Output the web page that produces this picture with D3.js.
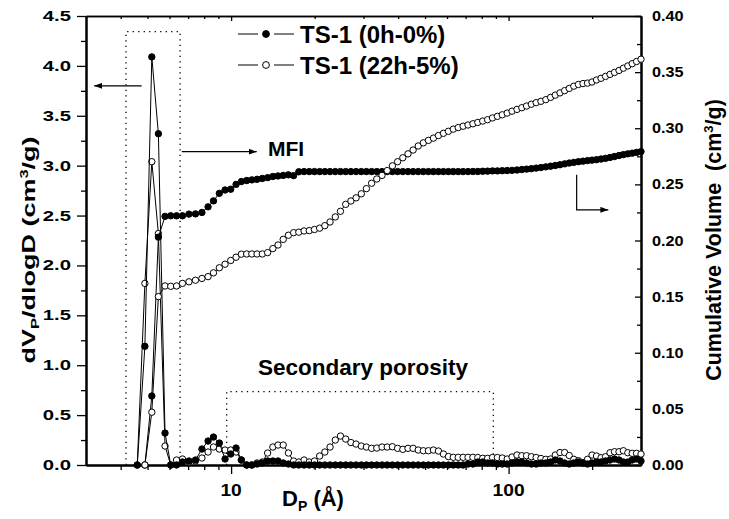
<!DOCTYPE html>
<html>
<head>
<meta charset="utf-8">
<script src="https://cdn.jsdelivr.net/npm/d3@7"></script>
<style>
  body { margin: 0; background: #fff; }
  svg text { font-family: "Liberation Sans", Arial, sans-serif; font-weight: bold; fill: #000; white-space: pre; }
</style>
</head>
<body>
<svg id="chart" width="729" height="519"></svg>
<script>
// pore diameter grid (Å), shared by all four series
const dp = [4.59, 4.89, 5.18, 5.47, 5.78, 6.06, 6.36, 6.68, 7.05, 7.44,
  7.85, 8.26, 8.64, 9.07, 9.51, 9.97, 10.42, 10.89, 11.38, 11.88,
  12.40, 12.96, 13.54, 14.14, 14.76, 15.41, 16.09, 16.80, 17.54, 18.32,
  19.13, 19.97, 20.85, 21.77, 22.73, 23.74, 24.78, 25.88, 27.02, 28.21,
  29.46, 30.73, 32.09, 33.50, 34.98, 36.52, 38.13, 39.81, 41.57, 43.40,
  45.28, 47.24, 49.29, 51.42, 53.60, 55.87, 58.23, 60.70, 63.21, 65.84,
  68.57, 71.41, 74.37, 77.45, 80.67, 84.01, 87.50, 91.13, 94.91, 98.84,
  102.9, 107.2, 111.6, 116.1, 120.8, 125.7, 130.8, 136.2, 141.7, 147.3,
  153.2, 159.2, 165.4, 171.8, 178.5, 185.4, 192.5, 199.8, 207.4, 215.3,
  223.5, 232.0, 240.8, 250.0, 259.2, 268.9, 278.9, 289.2, 300.0]

// dVp/dlogD (cm3/g), left axis
const psd0 = [0, 1.19, 4.09, 3.32, 0.32, 0.0, 0.0, 0.03, 0.04, 0.05,
  0.16, 0.24, 0.28, 0.22, 0.06, 0.11, 0.17, 0.05, 0.0, 0.0,
  0.01, 0.02, 0.04, 0.04, 0.04, 0.02, 0.01, 0, 0, 0,
  0, 0, 0, 0, 0, 0, 0, 0, 0, 0,
  0, 0, 0, 0, 0, 0, 0, 0, 0, 0,
  0, 0, 0, 0, 0, 0, 0, 0, 0, 0,
  0, 0.01, 0.01, 0.03, 0.03, 0.02, 0.02, 0.01, 0.01, 0.01,
  0.02, 0.03, 0.03, 0.02, 0.01, 0.01, 0.02, 0.02, 0.03, 0.05,
  0.04, 0.02, 0.01, 0.02, 0.03, 0.02, 0.01, 0.02, 0.03, 0.03,
  0.04, 0.05, 0.06, 0.05, 0.03, 0.03, 0.05, 0.06, 0.04]
const psd1 = [0, 1.82, 3.04, 2.32, 0.19, 0.0, 0.05, 0.06, 0.03, 0.04,
  0.07, 0.13, 0.18, 0.16, 0.15, 0.15, 0.13, 0.05, 0.0, 0.0,
  0.02, 0.03, 0.12, 0.18, 0.20, 0.20, 0.12, 0.04, 0.03, 0.05,
  0.03, 0.04, 0.09, 0.13, 0.18, 0.25, 0.29, 0.26, 0.225, 0.21,
  0.19, 0.18, 0.167, 0.17, 0.18, 0.18, 0.183, 0.167, 0.157, 0.167,
  0.167, 0.15, 0.143, 0.143, 0.15, 0.14, 0.11, 0.085, 0.077, 0.077,
  0.077, 0.077, 0.077, 0.075, 0.067, 0.067, 0.075, 0.075, 0.07, 0.06,
  0.08, 0.10, 0.093, 0.093, 0.083, 0.075, 0.065, 0.057, 0.06, 0.10,
  0.125, 0.125, 0.095, 0.057, 0.043, 0.023, 0.057, 0.10, 0.09, 0.073,
  0.083, 0.123, 0.133, 0.133, 0.143, 0.123, 0.117, 0.117, 0.11]

// cumulative volume (cm3/g), right axis
const cum0 = [null, 0, 0.0615, 0.203, 0.2215, 0.222, 0.222, 0.222, 0.2235, 0.2237,
  0.225, 0.230, 0.2353, 0.242, 0.245, 0.2457, 0.250, 0.2525, 0.2534, 0.254,
  0.2545, 0.2553, 0.256, 0.257, 0.2575, 0.258, 0.2585, 0.2578, 0.2612, 0.2614,
  0.2614, 0.2614, 0.2614, 0.2614, 0.2614, 0.2614, 0.2614, 0.2614, 0.2614, 0.2614,
  0.2614, 0.2614, 0.2614, 0.2614, 0.2614, 0.2614, 0.2614, 0.2614, 0.2614, 0.2614,
  0.2614, 0.2614, 0.2614, 0.2614, 0.2614, 0.2614, 0.2614, 0.2614, 0.2614, 0.2614,
  0.2614, 0.2614, 0.2615, 0.2615, 0.2617, 0.2618, 0.262, 0.262, 0.2622, 0.2623,
  0.2625, 0.2628, 0.2632, 0.2636, 0.264, 0.2645, 0.265, 0.2656, 0.2662, 0.2668,
  0.2675, 0.2683, 0.269, 0.2696, 0.2702, 0.2707, 0.2712, 0.2716, 0.272, 0.2726,
  0.2732, 0.274, 0.2748, 0.2757, 0.2765, 0.2772, 0.2778, 0.2785, 0.2792]
const cum1 = [null, 0, 0.047, 0.150, 0.1595, 0.1592, 0.1595, 0.1618, 0.1632, 0.1646,
  0.1662, 0.1678, 0.1712, 0.1757, 0.1789, 0.1822, 0.1851, 0.1878, 0.188, 0.188,
  0.188, 0.188, 0.1892, 0.1928, 0.196, 0.201, 0.2047, 0.207, 0.2074, 0.2085,
  0.2088, 0.2098, 0.211, 0.2132, 0.2165, 0.221, 0.226, 0.2322, 0.2352, 0.238,
  0.2416, 0.2462, 0.251, 0.2548, 0.258, 0.2623, 0.2665, 0.2702, 0.2737, 0.2772,
  0.2806, 0.2842, 0.287, 0.2892, 0.2912, 0.2935, 0.2955, 0.2973, 0.2992, 0.3006,
  0.3018, 0.3029, 0.304, 0.3052, 0.3064, 0.3076, 0.3092, 0.3106, 0.312, 0.3135,
  0.3152, 0.3168, 0.3183, 0.3198, 0.3214, 0.3228, 0.324, 0.3255, 0.3275, 0.3295,
  0.3315, 0.3335, 0.3355, 0.3375, 0.339, 0.3398, 0.3402, 0.3412, 0.343, 0.3445,
  0.3462, 0.348, 0.3497, 0.3515, 0.3535, 0.3555, 0.3575, 0.3595, 0.3615]

const seriesNames = ["TS-1 (0h-0%)", "TS-1 (22h-5%)"]
const leftTicks = [0, 0.5, 1.0, 1.5, 2.0, 2.5, 3.0, 3.5, 4.0, 4.5]
const rightTicks = [0, 0.05, 0.10, 0.15, 0.20, 0.25, 0.30, 0.35, 0.40]
const xTicks = [10, 100]
const xMinor = [4, 5, 6, 7, 8, 9, 20, 30, 40, 50, 60, 70, 80, 90, 200]

const svg = d3.select("#chart")

const x = d3.scaleLog().domain([3, 300]).range([86, 641])
const yL = d3.scaleLinear().domain([0, 4.5]).range([465, 16])
const yR = d3.scaleLinear().domain([0, 0.4]).range([465, 16])

function addText(parent, tx, ty, str, size, opts) {
    opts = opts || {}
    let tf = `translate(${tx},${ty})`
    if (opts.rotate) tf += ` rotate(${opts.rotate})`
    if (opts.sx) tf += ` scale(${opts.sx},1)`
    return parent.append("text")
        .attr("transform", tf)
        .attr("text-anchor", opts.anchor || "start")
        .attr("font-size", size)
        .text(str)
}

// ---- axes (tick lines only, labels drawn below) ----
const noLabel = () => ""
const axisStyle = g => g
    .call(g => g.select(".domain").attr("stroke-width", 2))
    .call(g => g.selectAll(".tick line").attr("stroke-width", 1.3))

svg.append("g").attr("transform", "translate(0,465)")
    .call(d3.axisBottom(x).tickValues(xTicks).tickFormat(noLabel).tickSize(9).tickSizeOuter(0))
    .call(axisStyle)
svg.append("g").attr("transform", "translate(0,465)")
    .call(d3.axisBottom(x).tickValues(xMinor).tickFormat(noLabel).tickSize(5).tickSizeOuter(0))
    .call(axisStyle)
svg.append("g").attr("transform", "translate(0,16)")
    .call(d3.axisBottom(x).tickValues(xTicks).tickFormat(noLabel).tickSize(5).tickSizeOuter(0))
    .call(axisStyle).call(g => g.select(".domain").attr("stroke-width", 1.5))
svg.append("g").attr("transform", "translate(0,16)")
    .call(d3.axisBottom(x).tickValues(xMinor).tickFormat(noLabel).tickSize(3).tickSizeOuter(0))
    .call(axisStyle).call(g => g.select(".domain").attr("stroke-width", 1.5))

svg.append("g").attr("transform", "translate(86,0)")
    .call(d3.axisLeft(yL).tickValues(leftTicks).tickFormat(noLabel).tickSize(9).tickSizeOuter(0))
    .call(axisStyle)
svg.append("g").attr("transform", "translate(86,0)")
    .call(d3.axisLeft(yL).tickValues(d3.range(0.25, 4.5, 0.5)).tickFormat(noLabel).tickSize(5).tickSizeOuter(0))
    .call(axisStyle)

svg.append("g").attr("transform", "translate(641,0)")
    .call(d3.axisRight(yR).tickValues(rightTicks).tickFormat(noLabel).tickSize(-6).tickSizeOuter(0))
    .call(axisStyle)
svg.append("g").attr("transform", "translate(641,0)")
    .call(d3.axisRight(yR).tickValues(d3.range(0.025, 0.4, 0.05)).tickFormat(noLabel).tickSize(-4).tickSizeOuter(0))
    .call(axisStyle)

// tick labels
const labels = svg.append("g")
leftTicks.forEach(v => addText(labels, 71, yL(v) + 5, d3.format(".1f")(v), 14, {anchor: "end", sx: 1.45}))
rightTicks.forEach(v => addText(labels, 652, yR(v) + 5, d3.format(".2f")(v), 14, {sx: 1.16}))
xTicks.forEach(v => addText(labels, x(v), 496, String(v), 16, {anchor: "middle", sx: 1.2}))

// axis titles
const xt = svg.append("text").attr("transform", "translate(313,506)")
    .attr("text-anchor", "middle").attr("font-size", 22)
xt.append("tspan").text("D")
xt.append("tspan").attr("font-size", 14).attr("dy", 5).text("P")
xt.append("tspan").attr("dy", -5).text(" (Å)")

const ylt = svg.append("text").attr("transform", "translate(35,250) rotate(-90) scale(1.5,1)")
    .attr("text-anchor", "middle").attr("font-size", 18)
ylt.append("tspan").text("dV")
ylt.append("tspan").attr("font-size", 11).attr("dy", 4).text("P")
ylt.append("tspan").attr("dy", -4).text("/dlogD (cm")
ylt.append("tspan").attr("font-size", 11).attr("dy", -7).text("3")
ylt.append("tspan").attr("dy", 7).text("/g)")

const yrt = svg.append("text").attr("transform", "translate(721,240) rotate(-90)")
    .attr("text-anchor", "middle").attr("font-size", 21.5)
yrt.append("tspan").text("Cumulative Volume  (cm")
yrt.append("tspan").attr("font-size", 13).attr("dy", -8).text("3")
yrt.append("tspan").attr("dy", 8).text("/g)")

// ---- annotations ----
svg.append("defs").append("marker")
    .attr("id", "arrow").attr("viewBox", "0 0 8 6")
    .attr("refX", 8).attr("refY", 3)
    .attr("markerWidth", 8).attr("markerHeight", 6)
    .attr("markerUnits", "userSpaceOnUse").attr("orient", "auto")
    .append("path").attr("d", "M0,0L8,3L0,6Z").attr("fill", "#000")

const dotted = {fill: "none", stroke: "#000", "stroke-width": 1.3, "stroke-dasharray": "1.3,4.2"}
const mfiBox = [[4.18, 0], [4.18, 4.343], [6.55, 4.343], [6.55, 0]]
const secBox = [[9.64, 0], [9.64, 0.735], [88.1, 0.735], [88.1, 0]]
const boxL = d3.line().x(d => x(d[0])).y(d => yL(d[1]))
;[mfiBox, secBox].forEach(b => {
    const p = svg.append("path").attr("d", boxL(b))
    Object.entries(dotted).forEach(([k, v]) => p.attr(k, v))
})

const arrowLine = (pts, yScale) => svg.append("path")
    .attr("d", d3.line().x(d => x(d[0])).y(d => yScale(d[1]))(pts))
    .attr("fill", "none").attr("stroke", "#000").attr("stroke-width", 1.2)
    .attr("marker-end", "url(#arrow)")
arrowLine([[4.76, 3.80], [3.21, 3.80]], yL)
arrowLine([[6.64, 3.14], [12.37, 3.14]], yL)
arrowLine([[175.9, 0.2585], [175.9, 0.2273], [228.8, 0.2273]], yR)

addText(svg, 268, 156, "MFI", 21)
addText(svg, 363, 375, "Secondary porosity", 22.5, {anchor: "middle"})

// ---- series ----
const rows = dp.map((d, i) => ({d, psd0: psd0[i], psd1: psd1[i], cum0: cum0[i], cum1: cum1[i]}))

function drawSeries(key, yScale, filled) {
    const pts = rows.filter(r => r[key] !== null)
    svg.append("path")
        .attr("d", d3.line().x(r => x(r.d)).y(r => yScale(r[key]))(pts))
        .attr("fill", "none").attr("stroke", "#000").attr("stroke-width", 1)
    svg.append("g").selectAll("circle").data(pts).join("circle")
        .attr("cx", r => x(r.d)).attr("cy", r => yScale(r[key]))
        .attr("r", 3.2)
        .attr("fill", filled ? "#000" : "#fff")
        .attr("stroke", "#000").attr("stroke-width", 1)
}
drawSeries("psd1", yL, false)
drawSeries("psd0", yL, true)
drawSeries("cum0", yR, true)
drawSeries("cum1", yR, false)

// ---- legend ----
const legend = svg.append("g")
seriesNames.forEach((name, i) => {
    const ly = [34, 65][i]
    legend.append("line").attr("x1", 238).attr("x2", 258).attr("y1", ly).attr("y2", ly).attr("stroke", "#000")
    legend.append("line").attr("x1", 274).attr("x2", 294).attr("y1", ly).attr("y2", ly).attr("stroke", "#000")
    legend.append("circle").attr("cx", 266).attr("cy", ly).attr("r", 3.4)
        .attr("fill", i === 0 ? "#000" : "#fff").attr("stroke", "#000")
    addText(legend, 300, ly + 9, name, 24)
})
</script>
</body>
</html>
